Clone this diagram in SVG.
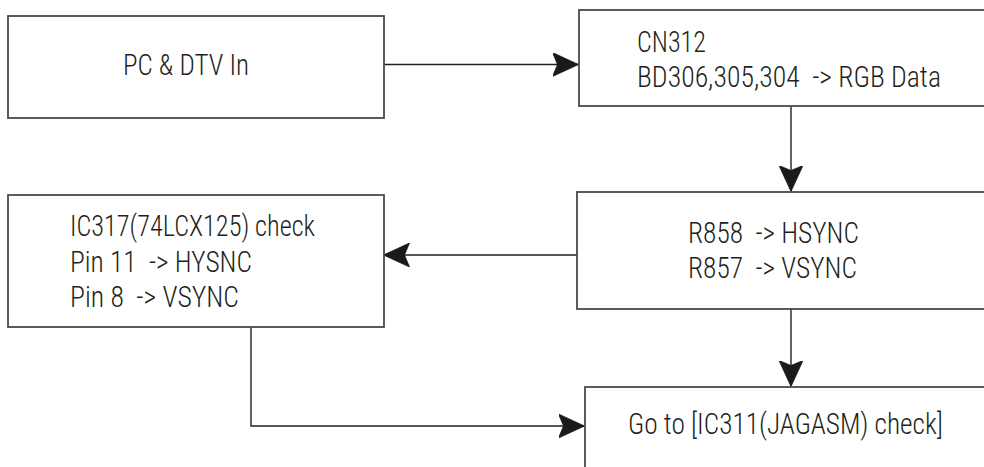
<svg xmlns="http://www.w3.org/2000/svg" width="984" height="467" viewBox="0 0 984 467">
<style>
.box{fill:#fff;stroke:#4a4a4a;stroke-width:1.8}
.t{font-family:"Liberation Sans Narrow","Roboto Condensed",Roboto,"Liberation Sans",sans-serif;font-size:30px;font-weight:300;font-stretch:condensed;fill:#231f20;white-space:pre}
.c{fill:none;stroke:#231f20;stroke-width:1.4}
</style>
<defs>
<marker id="ah" markerUnits="userSpaceOnUse" viewBox="0 0 26 24" refX="25.5" refY="12" markerWidth="26" markerHeight="24" orient="auto">
<path d="M0,0 L26,12 L0,24 L5,12 Z" fill="#1a1a1a" stroke="#1a1a1a" stroke-width="0.8" stroke-linejoin="round"/>
</marker>
</defs>
<rect width="984" height="467" fill="#fff"/>
<g id="connectors">
<path class="c" d="M384,64.5 H578" marker-end="url(#ah)"/>
<path class="c" d="M791,106 V191" marker-end="url(#ah)"/>
<path class="c" d="M577,255 H384" marker-end="url(#ah)"/>
<path class="c" d="M791,309 V386" marker-end="url(#ah)"/>
<path class="c" d="M251,327 V426 H584" marker-end="url(#ah)"/>
</g>
<g id="node-pc">
<rect class="box" x="8" y="16" width="376" height="102"/>
<text class="t" x="123" y="75" textLength="126" lengthAdjust="spacingAndGlyphs">PC &amp; DTV In</text>
</g>
<g id="node-cn312">
<rect class="box" x="579" y="10" width="430" height="96"/>
<text class="t" x="637" y="52" textLength="69" lengthAdjust="spacingAndGlyphs">CN312</text>
<text class="t" x="637" y="87" textLength="304" lengthAdjust="spacingAndGlyphs">BD306,305,304  -&gt; RGB Data</text>
</g>
<g id="node-r858">
<rect class="box" x="577" y="192" width="430" height="117"/>
<text class="t" x="688" y="243" textLength="171" lengthAdjust="spacingAndGlyphs">R858  -&gt; HSYNC</text>
<text class="t" x="688" y="278" textLength="169" lengthAdjust="spacingAndGlyphs">R857  -&gt; VSYNC</text>
</g>
<g id="node-ic317">
<rect class="box" x="8" y="195" width="376" height="132"/>
<text class="t" x="70" y="236" textLength="245" lengthAdjust="spacingAndGlyphs">IC317(74LCX125) check</text>
<text class="t" x="70" y="272" textLength="182" lengthAdjust="spacingAndGlyphs">Pin 11  -&gt; HYSNC</text>
<text class="t" x="70" y="307" textLength="169" lengthAdjust="spacingAndGlyphs">Pin 8  -&gt; VSYNC</text>
</g>
<g id="node-goto">
<rect class="box" x="585" y="387" width="430" height="120"/>
<text class="t" x="628" y="434" textLength="315" lengthAdjust="spacingAndGlyphs">Go to [IC311(JAGASM) check]</text>
</g>
</svg>
